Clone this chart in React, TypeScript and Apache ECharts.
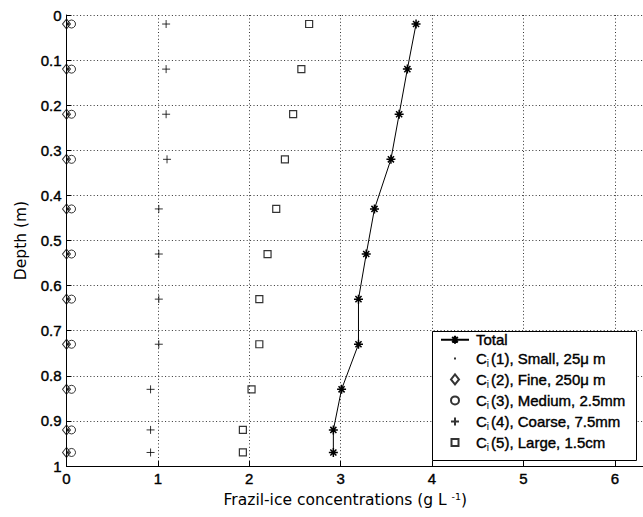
import React, { useEffect, useRef } from "react";
import * as echarts from "echarts";

// Depth of each sampling point (m)
const depths = [0.02, 0.12, 0.22, 0.32, 0.43, 0.53, 0.63, 0.73, 0.83, 0.92, 0.97];
// Concentrations (g/L)
const total = [3.825, 3.73, 3.64, 3.55, 3.37, 3.28, 3.195, 3.195, 3.01, 2.92, 2.92];
const c1Small = [0.02, 0.02, 0.02, 0.02, 0.02, 0.02, 0.02, 0.02, 0.02, 0.02, 0.02];
const c2Fine = [0.0, 0.0, 0.0, 0.0, 0.0, 0.0, 0.0, 0.0, 0.0, 0.0, 0.0];
const c3Medium = [0.055, 0.055, 0.055, 0.055, 0.055, 0.055, 0.055, 0.055, 0.055, 0.055, 0.055];
const c4Coarse = [1.09, 1.09, 1.09, 1.1, 1.01, 1.01, 1.01, 1.01, 0.92, 0.92, 0.92];
const c5Large = [2.655, 2.57, 2.48, 2.39, 2.295, 2.2, 2.11, 2.11, 2.025, 1.93, 1.93];

const seriesNames = [
  "Total",
  "Ci(1), Small, 25μ m",
  "Ci(2), Fine, 250μ m",
  "Ci(3), Medium, 2.5mm",
  "Ci(4), Coarse, 7.5mm",
  "Ci(5), Large, 1.5cm",
];

const ASTERISK = "path://M5,0V10M0,5H10M1.6,1.6L8.4,8.4M1.6,8.4L8.4,1.6";
const PLUS = "path://M5,0V10M0,5H10";
// legend icons (the leading moves fix the box so the icons keep their size)
const ICON_LINE_STAR = "path://M0,0M28,10M0,5H28M14,1V9M10,5H18M11.2,2.2L16.8,7.8M11.2,7.8L16.8,2.2";
const ICON_DOT = "path://M0,0M10,10M4,4H6V6H4Z";
const ICON_DIAMOND = "path://M0,0M10,10M5,0L9,5L5,10L1,5Z";
const ICON_CIRCLE = "path://M0,0M10,10M1,5A4,4,0,1,1,9,5A4,4,0,1,1,1,5Z";
const ICON_PLUS = "path://M0,0M10,10M5,1V9M1,5H9";
const ICON_SQUARE = "path://M0,0M10,10M1.5,1.5H8.5V8.5H1.5Z";

const pairs = (xs: number[]) => xs.map((x, i) => [x, depths[i]]);

const TICK_FONT = "Liberation Sans, Arial, sans-serif";
const TITLE_FONT = "DejaVu Sans, Verdana, sans-serif";

export default function App() {
  const ref = useRef<HTMLDivElement>(null);
  useEffect(() => {
    if (!ref.current) return;
    const chart = echarts.init(ref.current, null, { renderer: "svg" });
    const gridLine = { show: true, lineStyle: { color: "#333", type: [1, 2.4], width: 1 } };
    const tickText = {
      color: "#000",
      fontFamily: TICK_FONT,
      fontSize: 15,
      margin: 5,
      textBorderColor: "#000",
      textBorderWidth: 0.4,
    };
    chart.setOption({
      animation: false,
      backgroundColor: "#fff",
      grid: { left: 66.5, top: 15, width: 639.7, height: 451, containLabel: false },
      xAxis: {
        type: "value",
        min: 0,
        max: 7,
        interval: 1,
        axisLine: { onZero: false, lineStyle: { color: "#000", width: 1 } },
        axisTick: { inside: true, length: 5, lineStyle: { color: "#000" } },
        axisLabel: { ...tickText, showMaxLabel: false },
        splitLine: gridLine,
        name: "{a|Frazil-ice concentrations (g L }{p|-1}{a|)}",
        nameLocation: "middle",
        nameGap: 25,
        nameTextStyle: {
          padding: [0, 82, 0, 0],
          rich: {
            a: { fontFamily: TITLE_FONT, fontSize: 15.5, color: "#000", lineHeight: 18 },
            p: { fontFamily: TITLE_FONT, fontSize: 9.5, color: "#000", lineHeight: 10, verticalAlign: "top" },
          },
        },
      },
      yAxis: {
        type: "value",
        inverse: true,
        min: 0,
        max: 1,
        interval: 0.1,
        axisLine: { show: true, onZero: false, lineStyle: { color: "#000", width: 1 } },
        axisTick: { show: true, inside: true, length: 5, lineStyle: { color: "#000" } },
        axisLabel: tickText,
        splitLine: gridLine,
        name: "Depth (m)",
        nameLocation: "middle",
        nameGap: 38,
        nameTextStyle: { fontFamily: TITLE_FONT, fontSize: 15.5, color: "#000" },
      },
      legend: {
        orient: "vertical",
        left: 440,
        top: 332,
        padding: 0,
        itemGap: 3.3,
        itemWidth: 28,
        itemHeight: 10,
        selectedMode: false,
        data: [
          { name: seriesNames[0], icon: ICON_LINE_STAR },
          { name: seriesNames[1], icon: ICON_DOT },
          { name: seriesNames[2], icon: ICON_DIAMOND },
          { name: seriesNames[3], icon: ICON_CIRCLE },
          { name: seriesNames[4], icon: ICON_PLUS },
          { name: seriesNames[5], icon: ICON_SQUARE },
        ],
        formatter: (name: string) =>
          name.startsWith("Ci") ? `{t|C}{s|i}{t|${name.slice(2)}}` : `{t|${name}}`,
        textStyle: {
          rich: {
            t: {
              fontFamily: TICK_FONT,
              fontSize: 15,
              color: "#000",
              lineHeight: 20,
              padding: [0, 0, 0, 2],
              textBorderColor: "#000",
              textBorderWidth: 0.4,
            },
            s: { fontFamily: TICK_FONT, fontSize: 10, color: "#000", lineHeight: 10, verticalAlign: "bottom" },
          },
        },
      },
      graphic: [
        {
          type: "rect",
          z: 3,
          shape: { x: 432.5, y: 331.5, width: 204, height: 129 },
          style: { fill: "#fff", stroke: "#000", lineWidth: 1 },
        },
      ],
      series: [
        {
          name: seriesNames[0],
          type: "line",
          data: pairs(total),
          symbol: ASTERISK,
          symbolSize: 9,
          lineStyle: { color: "#000", width: 1 },
          itemStyle: { color: "#000", borderColor: "#000", borderWidth: 1.5 },
          emphasis: { disabled: true },
          z: 2,
        },
        {
          name: seriesNames[1],
          type: "scatter",
          data: pairs(c1Small),
          symbol: "circle",
          symbolSize: 2.5,
          itemStyle: { color: "#000" },
          emphasis: { disabled: true },
        },
        {
          name: seriesNames[2],
          type: "scatter",
          data: pairs(c2Fine),
          symbol: "diamond",
          symbolSize: [8, 10],
          itemStyle: { color: "none", borderColor: "#000", borderWidth: 1 },
          emphasis: { disabled: true },
        },
        {
          name: seriesNames[3],
          type: "scatter",
          data: pairs(c3Medium),
          symbol: "circle",
          symbolSize: 8,
          itemStyle: { color: "none", borderColor: "#000", borderWidth: 1 },
          emphasis: { disabled: true },
        },
        {
          name: seriesNames[4],
          type: "scatter",
          data: pairs(c4Coarse),
          symbol: PLUS,
          symbolSize: 8,
          itemStyle: { color: "#000", borderColor: "#000", borderWidth: 1 },
          emphasis: { disabled: true },
        },
        {
          name: seriesNames[5],
          type: "scatter",
          data: pairs(c5Large),
          symbol: "rect",
          symbolSize: 7,
          itemStyle: { color: "none", borderColor: "#000", borderWidth: 1.2 },
          emphasis: { disabled: true },
        },
      ],
    });
    return () => chart.dispose();
  }, []);
  return (
    <div
      style={{ position: "fixed", left: 0, top: 0, width: 643, height: 517, overflow: "hidden", background: "#fff" }}
    >
      <div ref={ref} style={{ width: 720, height: 517 }} />
    </div>
  );
}
